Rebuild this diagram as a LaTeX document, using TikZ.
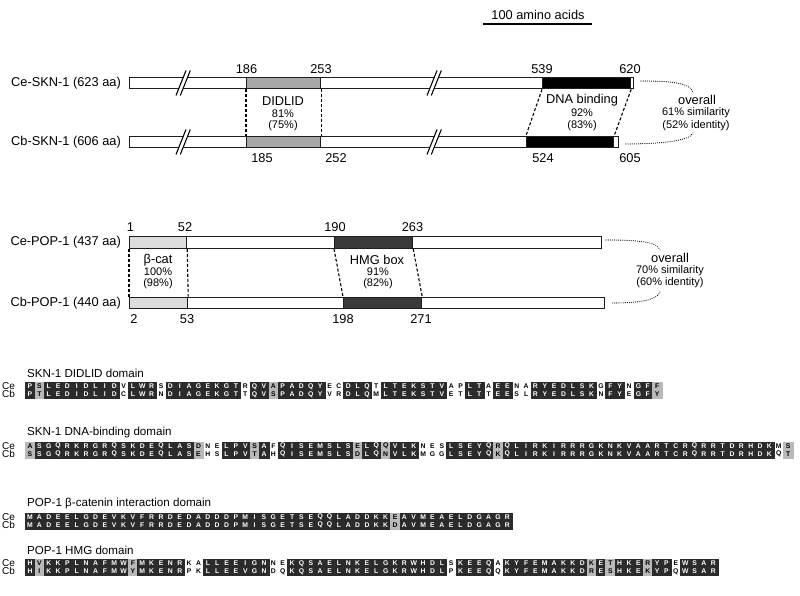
\documentclass[tikz,border=0pt]{standalone}
\usepackage{fontspec}
\setmainfont{Liberation Sans}
\usetikzlibrary{positioning}

\definecolor{barline}{HTML}{1E1E1E}
\definecolor{didlid}{HTML}{A8A8A8}
\definecolor{betacat}{HTML}{DCDCDC}
\definecolor{hmgbox}{HTML}{3A3A3A}
\definecolor{seqdark}{HTML}{2B2B2B}
\definecolor{seqgray}{HTML}{B9B9B9}

% one alignment: Ce row y, Cb row y, list of Ce/Cb/shade
\newcommand{\alnblock}[3]{%
  \node[seqname] at (2,{(#1+#2)/2}) {Ce\\Cb};
  \foreach \ce/\cb/\sh [count=\i] in {#3} {
    \node[res, res\sh] at ({30+(\i-1)*9.36},#1) {\ce};
    \node[res, res\sh] at ({30+(\i-1)*9.36},#2) {\cb};
  }}

% a // break in a bar
\newcommand{\barbreak}[2]{%
  \fill[white] ({#1-2.8},{#2+7}) -- ({#1+2.8},{#2-7}) -- ({#1+7.1},{#2-7}) -- ({#1+1.5},{#2+7}) -- cycle;
  \draw[line width=1.1pt] ({#1-5},{#2+12.5}) -- ({#1+5},{#2-12.5});
  \draw[line width=1.1pt] ({#1-0.7},{#2+12.5}) -- ({#1+9.3},{#2-12.5});}

\begin{document}
\begin{tikzpicture}[x=1pt, y=-1pt,
    lbl/.style={font=\fontsize{12.8}{14}\selectfont, inner sep=0pt},
    sml/.style={font=\fontsize{11}{12}\selectfont, inner sep=0pt},
    bar/.style={draw=barline, line width=1.2pt, fill=white, inner sep=0pt,
                minimum height=11.5pt, anchor=west},
    dom/.style={bar, fill=#1},
    link/.style={line width=1.1pt, dash pattern=on 3pt off 2pt},
    brace/.style={line width=1.1pt, line cap=round, dash pattern=on 0.1pt off 2pt},
    seqname/.style={font=\fontsize{10}{7.8}\selectfont, inner sep=0pt, anchor=west, align=left},
    seqtitle/.style={font=\fontsize{11.6}{13}\selectfont, inner sep=0pt, anchor=west},
    res/.style={inner sep=0pt, minimum width=9.36pt, minimum height=7.8pt,
                font=\fontsize{6.8}{7}\selectfont\bfseries},
    resk/.style={fill=seqdark, draw=seqdark, line width=0.3pt, text=white},
    resg/.style={fill=seqgray, draw=seqgray, line width=0.3pt, text=black},
    resw/.style={text=black}]
\useasboundingbox (0,0) rectangle (800,596);

% scale bar
\node[lbl] (scale) at (538,15) {100 amino acids};
\draw[line width=1.2pt] (483,24) -- (592,24);

% SKN-1
\node[bar, minimum width=504pt] (ceSKN) at (129,83) {};
\node[bar, minimum width=489pt] (cbSKN) at (129,142) {};
\node[dom=didlid, minimum width=74pt] (ceD) at (246,83) {};
\node[dom=didlid, minimum width=74pt] (cbD) at (246,142) {};
\node[dom=black, minimum width=88pt] (ceDNA) at (542,83) {};
\node[dom=black, minimum width=87pt] (cbDNA) at (526,142) {};
\barbreak{181}{83}
\barbreak{432}{83}
\barbreak{181}{142}
\barbreak{432}{142}
\node[lbl, left=8pt of ceSKN] {Ce-SKN-1 (623 aa)};
\node[lbl, left=8pt of cbSKN] {Cb-SKN-1 (606 aa)};

\node[lbl] at (246.5,69) {186};
\node[lbl] at (321,69) {253};
\node[lbl] at (542,69) {539};
\node[lbl] at (630,69) {620};
\node[lbl] at (262,158) {185};
\node[lbl] at (336,158) {252};
\node[lbl] at (543,158) {524};
\node[lbl] at (630,158) {605};

\draw[link] (ceD.south west) -- (cbD.north west);
\draw[link] (ceD.south east) -- (cbD.north east);
\draw[link] (ceDNA.south west) -- (cbDNA.north west);
\draw[link] (ceDNA.south east) -- (cbDNA.north east);

\node[lbl] at (283,101) {DIDLID};
\node[sml] at (283,114) {81\%};
\node[sml] at (283,126) {(75\%)};
\node[lbl] at (582,100) {DNA binding};
\node[sml] at (582,113) {92\%};
\node[sml] at (582,126) {(83\%)};

\node[lbl] (ovS) at (697,100) {overall};
\node[sml] at (696,113) {61\% similarity};
\node[sml] at (696,126) {(52\% identity)};
\coordinate (ovS-a) at (641,81);
\coordinate (ovS-b) at (693,92);
\coordinate (ovS-c) at (693,133);
\coordinate (ovS-d) at (624,144);
\draw[brace] (ovS-a) .. controls (672,81) and (690,83) .. (ovS-b);
\draw[brace] (ovS-c) .. controls (690,141) and (660,144) .. (ovS-d);

% POP-1
\node[bar, minimum width=472pt] (cePOP) at (129,242.5) {};
\node[bar, minimum width=475pt] (cbPOP) at (129,303) {};
\node[dom=betacat, minimum width=57pt] (ceB) at (129,242.5) {};
\node[dom=betacat, minimum width=58pt] (cbB) at (129,303) {};
\node[dom=hmgbox, minimum width=78pt] (ceH) at (334,242.5) {};
\node[dom=hmgbox, minimum width=78pt] (cbH) at (343,303) {};
\node[lbl, left=8pt of cePOP] {Ce-POP-1 (437 aa)};
\node[lbl, left=8pt of cbPOP] {Cb-POP-1 (440 aa)};

\node[lbl] at (130.5,227) {1};
\node[lbl] at (185,227) {52};
\node[lbl] at (335,227) {190};
\node[lbl] at (412.5,227) {263};
\node[lbl] at (134,319) {2};
\node[lbl] at (187,319) {53};
\node[lbl] at (343,319) {198};
\node[lbl] at (421,319) {271};

\draw[link] (ceB.south west) -- (cbB.north west);
\draw[link] (ceB.south east) -- (cbB.north east);
\draw[link] (ceH.south west) -- (cbH.north west);
\draw[link] (ceH.south east) -- (cbH.north east);

\node[lbl] at (158,260) {β-cat};
\node[sml] at (158,272) {100\%};
\node[sml] at (158,284) {(98\%)};
\node[lbl] at (377,260) {HMG box};
\node[sml] at (378,272) {91\%};
\node[sml] at (378,284) {(82\%)};

\node[lbl] (ovP) at (670,258) {overall};
\node[sml] at (670,271) {70\% similarity};
\node[sml] at (670,283) {(60\% identity)};
\coordinate (ovP-a) at (606,240);
\coordinate (ovP-b) at (660,250);
\coordinate (ovP-c) at (660,292);
\coordinate (ovP-d) at (612,303);
\draw[brace] (ovP-a) .. controls (640,240) and (657,242) .. (ovP-b);
\draw[brace] (ovP-c) .. controls (657,300) and (640,303) .. (ovP-d);

% alignments
\node[seqtitle] at (27,373) {SKN-1 DIDLID domain};
\alnblock{386.5}{394.3}{P/P/k,S/T/g,L/L/k,E/E/k,D/D/k,I/I/k,D/D/k,L/L/k,I/I/k,D/D/k,
  V/C/w,L/L/k,W/W/k,R/R/k,S/N/w,D/D/k,I/I/k,A/A/k,G/G/k,E/E/k,
  K/K/k,G/G/k,T/T/k,R/T/w,Q/Q/k,V/V/k,A/S/g,P/P/k,A/A/k,D/D/k,
  Q/Q/k,Y/Y/k,E/V/w,C/R/w,D/D/k,L/L/k,Q/Q/k,T/M/w,L/L/k,T/T/k,
  E/E/k,K/K/k,S/S/k,T/T/k,V/V/k,A/E/w,P/T/w,L/L/k,T/T/k,A/T/w,
  E/E/k,E/E/k,N/S/w,A/L/w,R/R/k,Y/Y/k,E/E/k,D/D/k,L/L/k,S/S/k,
  K/K/k,G/N/w,F/F/k,Y/Y/k,N/E/w,G/G/k,F/F/k,F/Y/g}

\node[seqtitle] at (27,432) {SKN-1 DNA-binding domain};
\alnblock{446}{453.8}{A/S/g,S/S/k,G/G/k,Q/Q/k,R/R/k,K/K/k,R/R/k,G/G/k,R/R/k,Q/Q/k,
  S/S/k,K/K/k,D/D/k,E/E/k,Q/Q/k,L/L/k,A/A/k,S/S/k,D/E/g,N/H/w,
  E/S/w,L/L/k,P/P/k,V/V/k,S/T/g,A/A/k,F/H/w,Q/Q/k,I/I/k,S/S/k,
  E/E/k,M/M/k,S/S/k,L/L/k,S/S/k,E/D/g,L/L/k,Q/Q/k,Q/N/g,V/V/k,
  L/L/k,K/K/k,N/M/w,E/G/w,S/G/w,L/L/k,S/S/k,E/E/k,Y/Y/k,Q/Q/k,
  R/K/g,Q/Q/k,L/L/k,I/I/k,R/R/k,K/K/k,I/I/k,R/R/k,R/R/k,R/R/k,
  G/G/k,K/K/k,N/N/k,K/K/k,V/V/k,A/A/k,A/A/k,R/R/k,T/T/k,C/C/k,
  R/R/k,Q/Q/k,R/R/k,R/R/k,T/T/k,D/D/k,R/R/k,H/H/k,D/D/k,K/K/k,
  M/Q/w,S/T/g}

\node[seqtitle] at (27,503) {POP-1 β-catenin interaction domain};
\alnblock{517}{524.8}{M/M/k,A/A/k,D/D/k,E/E/k,E/E/k,L/L/k,G/G/k,D/D/k,E/E/k,V/V/k,
  K/K/k,V/V/k,F/F/k,R/R/k,R/R/k,D/D/k,E/E/k,D/D/k,A/A/k,D/D/k,
  D/D/k,D/D/k,P/P/k,M/M/k,I/I/k,S/S/k,G/G/k,E/E/k,T/T/k,S/S/k,
  E/E/k,Q/Q/k,Q/Q/k,L/L/k,A/A/k,D/D/k,D/D/k,K/K/k,K/K/k,E/D/g,
  A/A/k,V/V/k,M/M/k,E/E/k,A/A/k,E/E/k,L/L/k,D/D/k,G/G/k,A/A/k,
  G/G/k,R/R/k}

\node[seqtitle] at (27,550) {POP-1 HMG domain};
\alnblock{563.5}{571.3}{H/H/k,V/I/g,K/K/k,K/K/k,P/P/k,L/L/k,N/N/k,A/A/k,F/F/k,M/M/k,
  W/W/k,F/Y/g,M/M/k,K/K/k,E/E/k,N/N/k,R/R/k,K/P/w,A/K/w,L/L/k,
  L/L/k,E/E/k,E/E/k,I/V/k,G/G/k,N/N/k,N/D/w,E/Q/w,K/K/k,Q/Q/k,
  S/S/k,A/A/k,E/E/k,L/L/k,N/N/k,K/K/k,E/E/k,L/L/k,G/G/k,K/K/k,
  R/R/k,W/W/k,H/H/k,D/D/k,L/L/k,S/P/w,K/K/k,E/E/k,E/E/k,Q/Q/k,
  A/Q/w,K/K/k,Y/Y/k,F/F/k,E/E/k,M/M/k,A/A/k,K/K/k,K/K/k,D/D/k,
  K/R/g,E/E/k,T/S/g,H/H/k,K/K/k,E/E/k,R/K/g,Y/Y/k,P/P/k,E/Q/w,
  W/W/k,S/S/k,A/A/k,R/R/k}
\end{tikzpicture}
\end{document}
